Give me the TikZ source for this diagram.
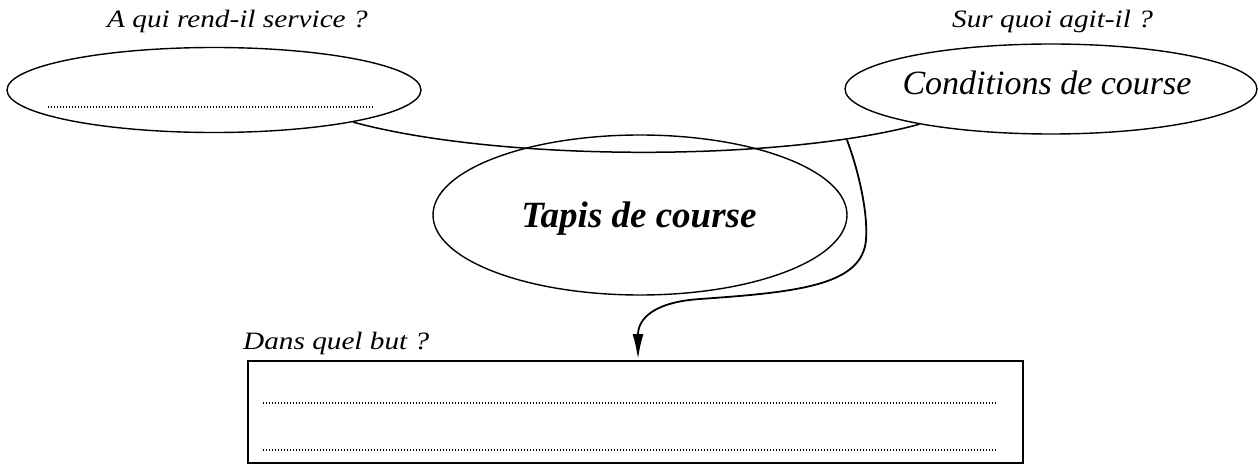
\documentclass[tikz,border=0pt]{standalone}
\usepackage{graphicx}
\usepackage{fontspec}
\setmainfont{Liberation Serif}
\usetikzlibrary{shapes.geometric,arrows.meta}
\newcommand{\widetxt}[1]{\scalebox{1.17}[1]{#1}}
\tikzset{
  oval/.style={ellipse, draw, line width=1.4pt, inner sep=0pt},
  lbl/.style={anchor=base west, inner sep=0pt, font=\fontsize{25}{29}\selectfont\itshape},
  dots/.style={line width=1.2pt, dash pattern=on 1.1pt off 1.9pt},
  link/.style={line width=1.5pt},
}
\begin{document}
\begin{tikzpicture}[x=1pt,y=-1pt]
\useasboundingbox (0,0) rectangle (1259,465);
% ellipses
\node[oval, minimum width=414pt, minimum height=85pt] (L) at (214,90) {};
\node[oval, minimum width=412pt, minimum height=90pt] (R) at (1051,89) {};
\node[oval, minimum width=414pt, minimum height=160pt] (C) at (640,215) {};
% texts
\node[lbl] (qa) at (107,28) {\widetxt{A qui rend-il service ?}};
\node[lbl] (qb) at (952,28) {\widetxt{Sur quoi agit-il ?}};
\node[lbl] (qc) at (243,349) {\widetxt{Dans quel but ?}};
\node[anchor=base, inner sep=0pt, font=\fontsize{34}{40}\selectfont\itshape] (tR) at (1047,95) {Conditions de course};
\node[anchor=base, inner sep=0pt, font=\fontsize{37}{44}\selectfont\bfseries\itshape] (tC) at (639,228) {Tapis de course};
% box
\node[draw, line width=1.6pt, rectangle, anchor=north west, minimum width=775pt, minimum height=102pt, inner sep=0pt] (B) at (247,360) {};
% dotted lines
\coordinate (d1a) at (48,107); \coordinate (d1b) at (374,107);
\coordinate (d2a) at (263,403); \coordinate (d2b) at (997,403);
\coordinate (d3a) at (263,450); \coordinate (d3b) at (997,450);
\draw[dots] (d1a) -- (d1b);
\draw[dots] (d2a) -- (d2b);
\draw[dots] (d3a) -- (d3b);
% connector between the two upper ellipses
\draw[link] (L.-13) .. controls (500,162) and (780,162) .. (R.195);
% arrow to the box
\coordinate (s) at (847,140);
\coordinate (tip) at (638,359);
\draw[line width=1.8pt, -{Latex[length=25pt,width=11pt]}]
  (s) .. controls (860,175) and (868,215) .. (866,240)
      .. controls (862,285) and (800,292) .. (700,299)
      .. controls (655,302) and (638,318) .. (tip);
\end{tikzpicture}
\end{document}
